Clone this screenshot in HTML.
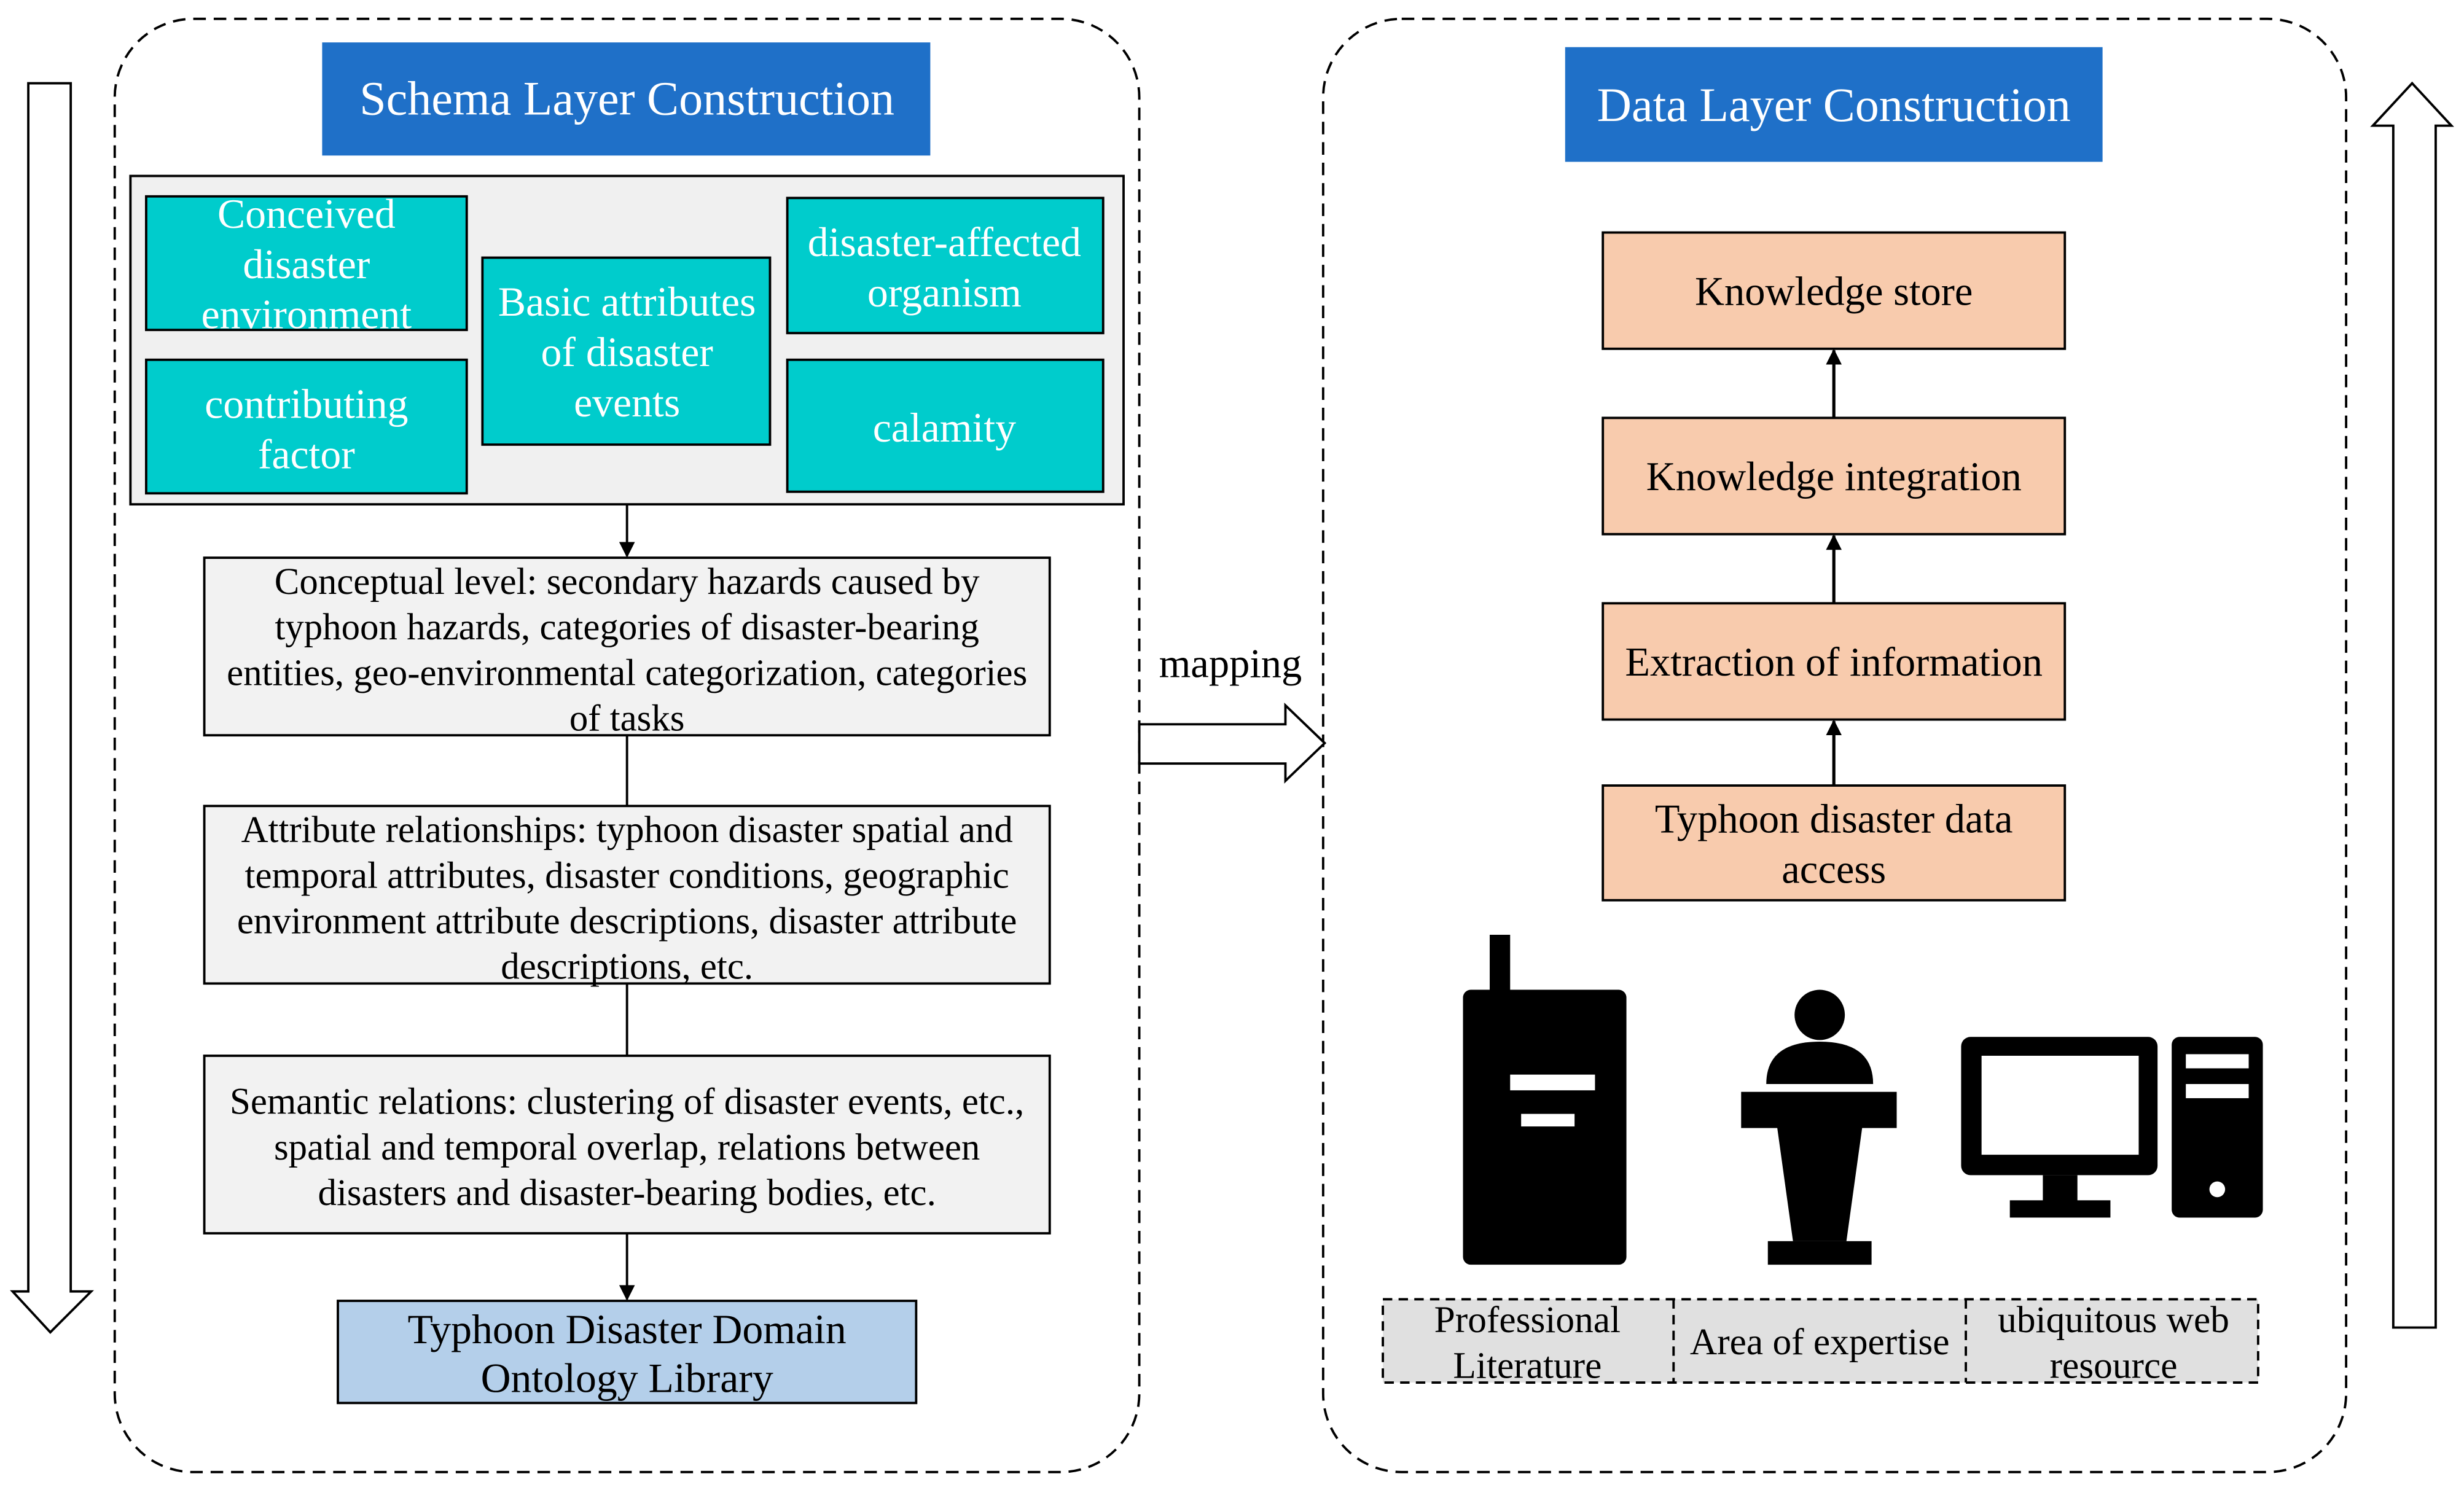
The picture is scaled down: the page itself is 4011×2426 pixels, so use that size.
<!DOCTYPE html>
<html><head><meta charset="utf-8"><style>
html,body{margin:0;padding:0;background:#fff;}
svg{display:block;}
text{font-family:"Liberation Serif",serif;}
</style></head><body>
<svg width="4011" height="2426" viewBox="0 0 1568 948.4" xmlns="http://www.w3.org/2000/svg">
<defs><marker id="ah" markerWidth="10" markerHeight="10" refX="9" refY="5" orient="auto" markerUnits="userSpaceOnUse"><path d="M0,0 L10,5 L0,10 z" fill="#000"/></marker></defs>
<path d="M18,53 H45 V822 H58 L32,848 L8,822 H18 Z" fill="#fff" stroke="#000" stroke-width="1.5"/>
<path d="M1523,845 H1550 V80 H1560 L1535,53 L1510,80 H1523 Z" fill="#fff" stroke="#000" stroke-width="1.5"/>
<rect x="73" y="12" width="652" height="925" rx="50" fill="none" stroke="#000" stroke-width="1.5" stroke-dasharray="8,5"/>
<rect x="842" y="12" width="651" height="925" rx="50" fill="none" stroke="#000" stroke-width="1.5" stroke-dasharray="8,5"/>
<rect x="205" y="27" width="387" height="72" fill="#1F70C8"/>
<text x="399" y="73" font-size="30.5" fill="#fff" text-anchor="middle">Schema Layer Construction</text>
<rect x="996" y="30" width="342" height="73" fill="#1F70C8"/>
<text x="1167" y="77" font-size="30.5" fill="#fff" text-anchor="middle">Data Layer Construction</text>
<rect x="83" y="112" width="632" height="209" fill="#f0f0f0" stroke="#000" stroke-width="1.5"/>
<g fill="#00CCCC" stroke="#000" stroke-width="1.5">
<rect x="93" y="125" width="204" height="85"/>
<rect x="93" y="229" width="204" height="85"/>
<rect x="307" y="164" width="183" height="119"/>
<rect x="501" y="126" width="201" height="86"/>
<rect x="501" y="229" width="201" height="84"/>
</g>
<g fill="#fff" font-size="26.5" text-anchor="middle">
<text x="195" y="145">Conceived</text><text x="195" y="177">disaster</text><text x="195" y="209">environment</text>
<text x="195" y="266">contributing</text><text x="195" y="298">factor</text>
<text x="399" y="201">Basic attributes</text><text x="399" y="233">of disaster</text><text x="399" y="265">events</text>
<text x="601" y="163">disaster-affected</text><text x="601" y="195">organism</text>
<text x="601" y="281">calamity</text>
</g>
<g stroke="#000" stroke-width="1.5">
<line x1="399" y1="321" x2="399" y2="354" marker-end="url(#ah)"/>
<line x1="399" y1="468" x2="399" y2="513"/>
<line x1="399" y1="626" x2="399" y2="672"/>
<line x1="399" y1="785" x2="399" y2="827" marker-end="url(#ah)"/>
</g>
<g fill="#f2f2f2" stroke="#000" stroke-width="1.5">
<rect x="130" y="355" width="538" height="113"/>
<rect x="130" y="513" width="538" height="113"/>
<rect x="130" y="672" width="538" height="113"/>
</g>
<rect x="215" y="828" width="368" height="65" fill="#B4CFEA" stroke="#000" stroke-width="1.5"/>
<g font-size="23.8" text-anchor="middle" fill="#000">
<text x="399" y="378">Conceptual level: secondary hazards caused by</text>
<text x="399" y="407">typhoon hazards, categories of disaster-bearing</text>
<text x="399" y="436">entities, geo-environmental categorization, categories</text>
<text x="399" y="465">of tasks</text>
<text x="399" y="536">Attribute relationships: typhoon disaster spatial and</text>
<text x="399" y="565">temporal attributes, disaster conditions, geographic</text>
<text x="399" y="594">environment attribute descriptions, disaster attribute</text>
<text x="399" y="623">descriptions, etc.</text>
<text x="399" y="709">Semantic relations: clustering of disaster events, etc.,</text>
<text x="399" y="738">spatial and temporal overlap, relations between</text>
<text x="399" y="767">disasters and disaster-bearing bodies, etc.</text>
<text x="399" y="855" font-size="26.5">Typhoon Disaster Domain</text>
<text x="399" y="886" font-size="26.5">Ontology Library</text>
<text x="783" y="431" font-size="26">mapping</text>
</g>
<path d="M725,461 H818 V449 L843,473 L818,497 V486 H725 Z" fill="#fff" stroke="#000" stroke-width="1.5"/>
<g fill="#F8CBAD" stroke="#000" stroke-width="1.5">
<rect x="1020" y="148" width="294" height="74"/>
<rect x="1020" y="266" width="294" height="74"/>
<rect x="1020" y="384" width="294" height="74"/>
<rect x="1020" y="500" width="294" height="73"/>
</g>
<g stroke="#000" stroke-width="2">
<line x1="1167" y1="266" x2="1167" y2="223" marker-end="url(#ah)"/>
<line x1="1167" y1="384" x2="1167" y2="341" marker-end="url(#ah)"/>
<line x1="1167" y1="500" x2="1167" y2="459" marker-end="url(#ah)"/>
</g>
<g font-size="26" text-anchor="middle" fill="#000">
<text x="1167" y="194">Knowledge store</text>
<text x="1167" y="312">Knowledge integration</text>
<text x="1167" y="430">Extraction of information</text>
<text x="1167" y="530">Typhoon disaster data</text>
<text x="1167" y="562">access</text>
</g>
<rect x="948" y="595" width="13" height="40" fill="#000"/>
<rect x="931" y="630" width="104" height="175" rx="5" fill="#000"/>
<rect x="961" y="684" width="54" height="10" fill="#fff"/>
<rect x="968" y="709" width="34" height="8" fill="#fff"/>
<circle cx="1158" cy="646" r="16" fill="#000"/>
<path d="M1124,690 Q1124,663 1158,663 Q1192,663 1192,690 Z" fill="#000"/>
<path d="M1108,695 H1207 V718 H1185 L1175,790 H1141 L1131,718 H1108 Z" fill="#000"/>
<rect x="1125" y="790" width="66" height="15" fill="#000"/>
<rect x="1248" y="660" width="125" height="88" rx="6" fill="#000"/>
<rect x="1261" y="672" width="100" height="63" fill="#fff"/>
<rect x="1300" y="748" width="22" height="18" fill="#000"/>
<rect x="1279" y="764" width="64" height="11" fill="#000"/>
<rect x="1382" y="660" width="58" height="115" rx="5" fill="#000"/>
<rect x="1391" y="671" width="40" height="9" fill="#fff"/>
<rect x="1391" y="690" width="40" height="9" fill="#fff"/>
<circle cx="1411" cy="757" r="5" fill="#fff"/>
<rect x="880" y="827" width="557" height="53" fill="#e0e0e0" stroke="#000" stroke-width="1.5" stroke-dasharray="6,4"/>
<line x1="1065" y1="827" x2="1065" y2="880" stroke="#000" stroke-width="1.5" stroke-dasharray="6,4"/>
<line x1="1251" y1="827" x2="1251" y2="880" stroke="#000" stroke-width="1.5" stroke-dasharray="6,4"/>
<g font-size="24" text-anchor="middle" fill="#000">
<text x="972" y="848">Professional</text><text x="972" y="877">Literature</text>
<text x="1158" y="862">Area of expertise</text>
<text x="1345" y="848">ubiquitous web</text><text x="1345" y="877">resource</text>
</g>
</svg>
</body></html>
